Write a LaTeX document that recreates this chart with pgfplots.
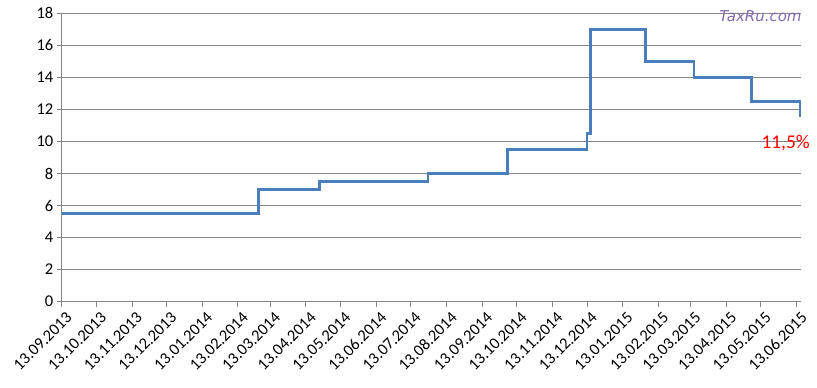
\documentclass[border=0pt]{standalone}
\usepackage{fontspec}
\setmainfont{Carlito}
\newfontfamily\wmfont{DejaVu Sans}
\usepackage{pgfplots}
\pgfplotsset{compat=1.18}
\definecolor{linec}{HTML}{4A7EBB}
\definecolor{gridc}{HTML}{868686}
\definecolor{wm}{RGB}{130,105,175}
\begin{document}
\begin{tikzpicture}
\begin{axis}[name=ax, scale only axis, width=739.5bp, height=288.4bp,
  xmin=0, xmax=642, ymin=0, ymax=18, clip=false,
  axis lines*=left, axis line style={gridc, line width=0.9bp},
  ytick={0,2,...,18}, ymajorgrids, grid style={gridc, line width=0.9bp},
  xtick={0,30,61,91,122,153,181,212,242,273,303,334,365,395,426,456,487,518,546,577,607,638},
  xticklabels={13.09.2013,13.10.2013,13.11.2013,13.12.2013,13.01.2014,13.02.2014,13.03.2014,13.04.2014,13.05.2014,13.06.2014,13.07.2014,13.08.2014,13.09.2014,13.10.2014,13.11.2014,13.12.2014,13.01.2015,13.02.2015,13.03.2015,13.04.2015,13.05.2015,13.06.2015},
  x tick label style={rotate=45, anchor=north east, font=\fontsize{16.5}{16.5}\selectfont, xshift=3bp, yshift=-2bp},
  y tick label style={font=\fontsize{16.5}{16.5}\selectfont},
  tick align=outside, major tick length=5bp, tick style={gridc, line width=0.9bp},
  /pgf/number format/assume math mode=true,
]
\addplot[linec, line width=2.6bp, line join=miter] coordinates {
(0,5.5) (171,5.5) (171,7) (224,7) (224,7.5) (318,7.5) (318,8) (387,8) (387,9.5)
(456,9.5) (456,10.5) (459,10.5) (459,17) (507,17) (507,15) (549,15) (549,14)
(599,14) (599,12.5) (641,12.5) (641,11.5)};
\node[text=red, font=\fontsize{19.5}{19.5}\selectfont] at (axis cs:628.5,9.9) {11,5\%};
\node[text=wm, font=\wmfont\itshape\fontsize{15}{15}\selectfont] at (axis cs:606.6,17.8) {TaxRu.com};
\end{axis}
\pgfresetboundingbox
\path ([shift={(-61.7bp,-86.3bp)}]ax.south west) rectangle ([shift={(15.8bp,13.3bp)}]ax.north east);
\end{tikzpicture}
\end{document}
